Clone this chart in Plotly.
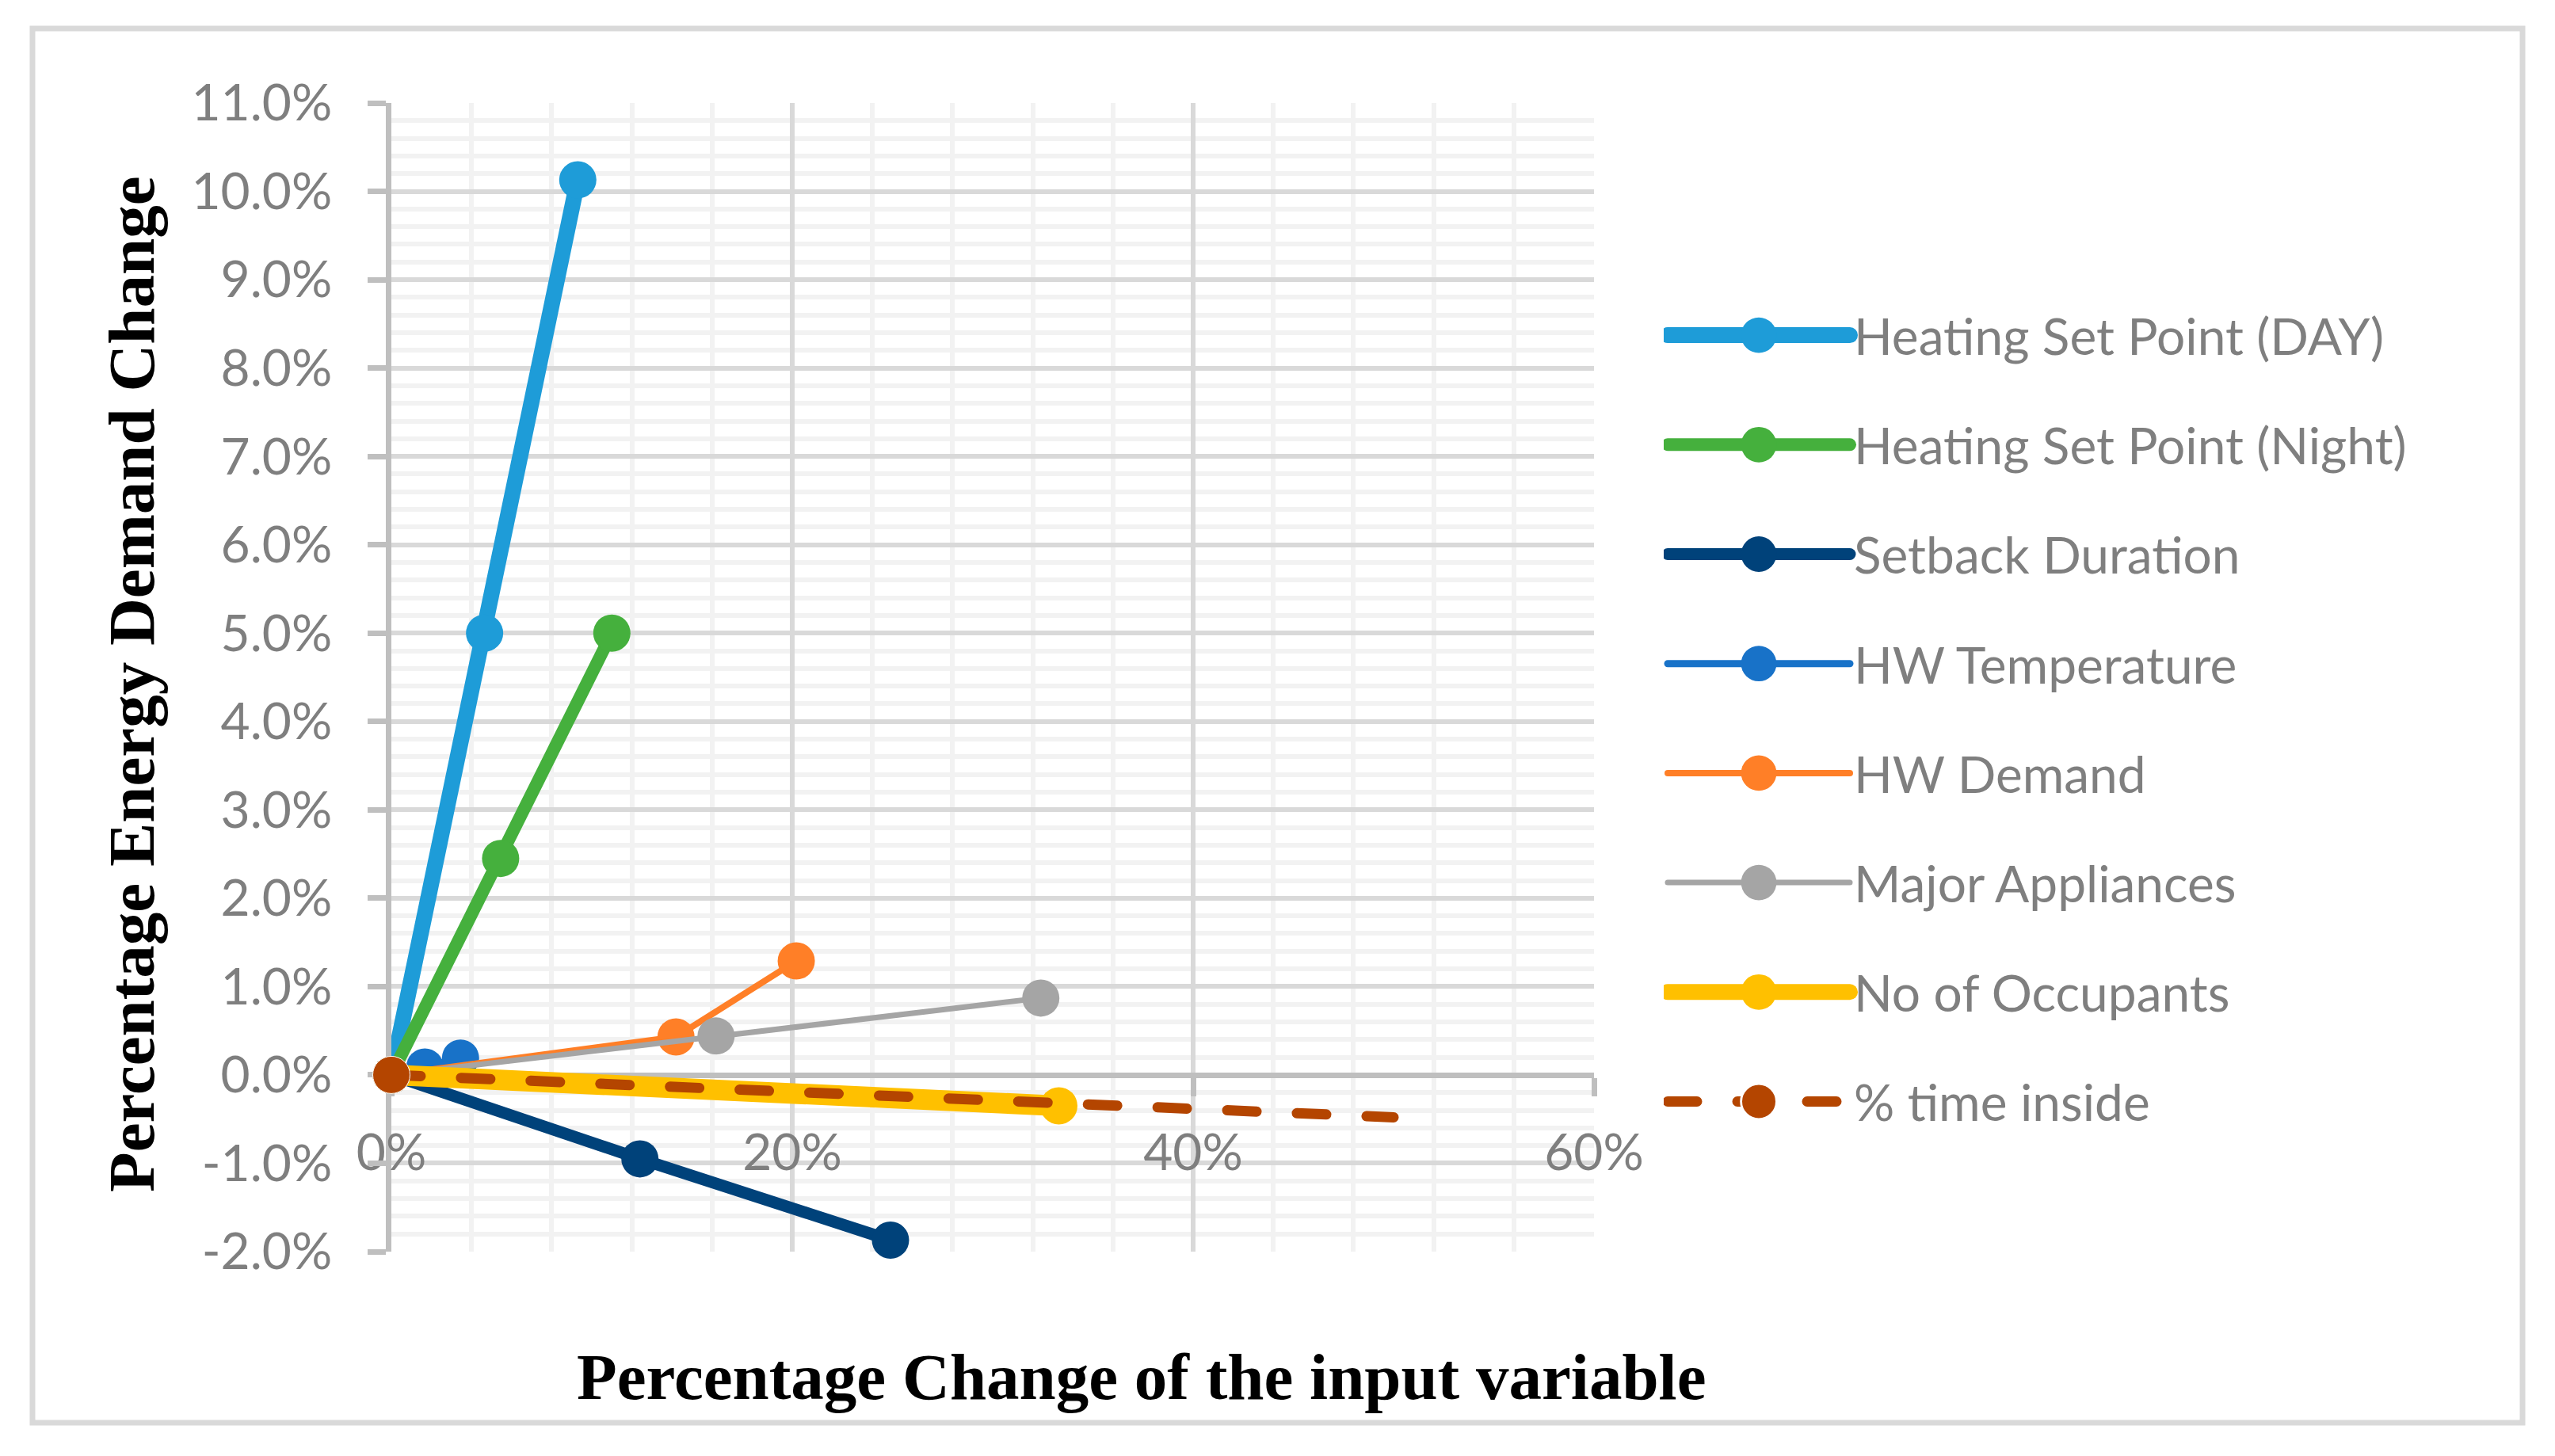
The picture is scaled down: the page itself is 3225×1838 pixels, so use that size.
import json
import plotly.graph_objects as go

# series values (percent units)
day_x = [0, 4.65, 9.3]
day_y = [0, 5.0, 10.13]
night_x = [0, 5.45, 11.0]
night_y = [0, 2.45, 5.0]
setback_x = [0, 12.4, 24.9]
setback_y = [0, -0.95, -1.87]
hwtemp_x = [0, 1.67, 3.45]
hwtemp_y = [0, 0.09, 0.19]
hwdem_x = [0, 14.2, 20.2]
hwdem_y = [0, 0.43, 1.29]
appl_x = [0, 16.2, 32.4]
appl_y = [0, 0.44, 0.87]
occ_x = [0, 33.3]
occ_y = [0, -0.35]
inside_x = [0, 50.0]
inside_y = [0, -0.48]

# tick labels
y_tickvals = [-2, -1, 0, 1, 2, 3, 4, 5, 6, 7, 8, 9, 10, 11]
y_ticktext = ["-2.0%", "-1.0%", "0.0%", "1.0%", "2.0%", "3.0%", "4.0%",
              "5.0%", "6.0%", "7.0%", "8.0%", "9.0%", "10.0%", "11.0%"]
x_tickvals = [0, 20, 40, 60]
x_ticktext = ["0%", "20%", "40%", "60%"]

W, H = 3225, 1838
# plot area in pixels
L, R, T, B = 494, 2012, 130, 1580


def px_x(p):
    return (p - L) / (R - L)


def px_y(p):
    return (B - p) / (B - T)


MS = 47
series = [
    ("Heating Set Point (DAY)", day_x, day_y, "#1E9CD8", 20, "solid", MS),
    ("Heating Set Point (Night)", night_x, night_y, "#45B03D", 16, "solid", MS),
    ("Setback Duration", setback_x, setback_y, "#00427A", 15, "solid", MS),
    ("HW Temperature", hwtemp_x, hwtemp_y, "#1872C8", 9, "solid", MS),
    ("HW Demand", hwdem_x, hwdem_y, "#FF7F27", 8, "solid", MS),
    ("Major Appliances", appl_x, appl_y, "#A5A5A5", 7, "solid", MS),
    ("No of Occupants", occ_x, occ_y, "#FFC000", 26, "solid", MS),
    ("% time inside", inside_x, inside_y, "#B44500", 13, "37px,51px", [MS, 0]),
]

fig = go.Figure()
for name, xs, ys, col, lw, dash, ms in series:
    fig.add_trace(go.Scatter(
        x=xs, y=ys, name=name, legendgroup=name,
        mode="lines+markers", cliponaxis=False,
        line=dict(color=col, width=lw, dash=dash),
        marker=dict(color=col, size=ms, symbol="circle", opacity=1),
    ))

grid_major = "#D9D9D9"
grid_minor = "#F2F2F2"
axis_col = "#BFBFBF"
tick_font = dict(family="Lato", size=64, color="#7F7F7F")

fig.update_xaxes(
    range=[0, 60], tickvals=x_tickvals, ticktext=x_ticktext, tickfont=tick_font,
    showgrid=True, gridcolor=grid_major, gridwidth=6,
    minor=dict(dtick=4, tick0=0, showgrid=True, gridcolor=grid_minor, gridwidth=6),
    showline=True, linecolor=axis_col, linewidth=7,
    ticks="outside", ticklen=23, tickwidth=7, tickcolor=axis_col,
    anchor="free", position=2 / 13, zeroline=False,
    ticklabelstandoff=16, layer="below traces",
)
fig.update_yaxes(
    range=[-2, 11], tickvals=y_tickvals, ticktext=y_ticktext, tickfont=tick_font,
    showgrid=True, gridcolor=grid_major, gridwidth=6,
    minor=dict(dtick=0.2, tick0=0, showgrid=True, gridcolor=grid_minor, gridwidth=6),
    showline=True, linecolor=axis_col, linewidth=7,
    ticks="outside", ticklen=23, tickwidth=7, tickcolor=axis_col,
    zeroline=False, ticklabelstandoff=32, layer="below traces",
)

title_font = dict(family="Liberation Serif", size=83, color="black")
fig.add_annotation(
    text="<b>Percentage Change of the input variable</b>",
    xref="paper", yref="paper", x=px_x(1440), y=px_y(1738),
    xanchor="center", yanchor="middle", showarrow=False, font=title_font,
)
fig.add_annotation(
    text="<b>Percentage Energy Demand Change</b>",
    xref="paper", yref="paper", x=px_x(166), y=px_y(864),
    xanchor="center", yanchor="middle", showarrow=False, textangle=-90,
    font=title_font,
)

# outer chart border
fig.add_shape(
    type="rect", xref="paper", yref="paper",
    x0=px_x(41), x1=px_x(3184), y0=px_y(1796), y1=px_y(36),
    line=dict(color="#D9D9D9", width=7), layer="below",
)

fig.update_layout(
    width=W, height=H,
    margin=dict(l=L, r=W - R, t=T, b=H - B),
    paper_bgcolor="white", plot_bgcolor="white",
    showlegend=True,
    legend=dict(
        x=px_x(2100), y=px_y(375), xanchor="left", yanchor="top",
        font=dict(family="Lato", size=64, color="#7F7F7F"),
        itemwidth=230, tracegroupgap=52, bgcolor="rgba(0,0,0,0)",
    ),
)

# plotly caps legend symbols (marker 16px, line 10px); enlarge them to match
# the chart, and give all lines round caps like the original
legend_widths = json.dumps([s[4] for s in series])
post = """
var gd = document.getElementById('{plot_id}');
var lw = %s;
function restyleLegend() {
  gd.querySelectorAll('.scatterlayer .js-line').forEach(function(p) {
    p.style.strokeLinecap = 'round';
  });
  gd.querySelectorAll('.legend .traces').forEach(function(g, i) {
    g.querySelectorAll('.legendlines path').forEach(function(p) {
      p.style.strokeWidth = Math.min(lw[i], 20) + 'px';
      p.style.strokeLinecap = 'round';
    });
    g.querySelectorAll('.legendpoints path').forEach(function(p) {
      p.style.opacity = 1;
      p.style.fillOpacity = 1;
      var t = p.getAttribute('transform') || '';
      if (t.indexOf('scale') < 0) p.setAttribute('transform', t + ' scale(2.8)');
    });
  });
}
restyleLegend();
gd.on('plotly_afterplot', restyleLegend);
document.body.style.margin = '0';
""" % legend_widths

fig.write_html("out.html", config={"displayModeBar": False}, post_script=post)
